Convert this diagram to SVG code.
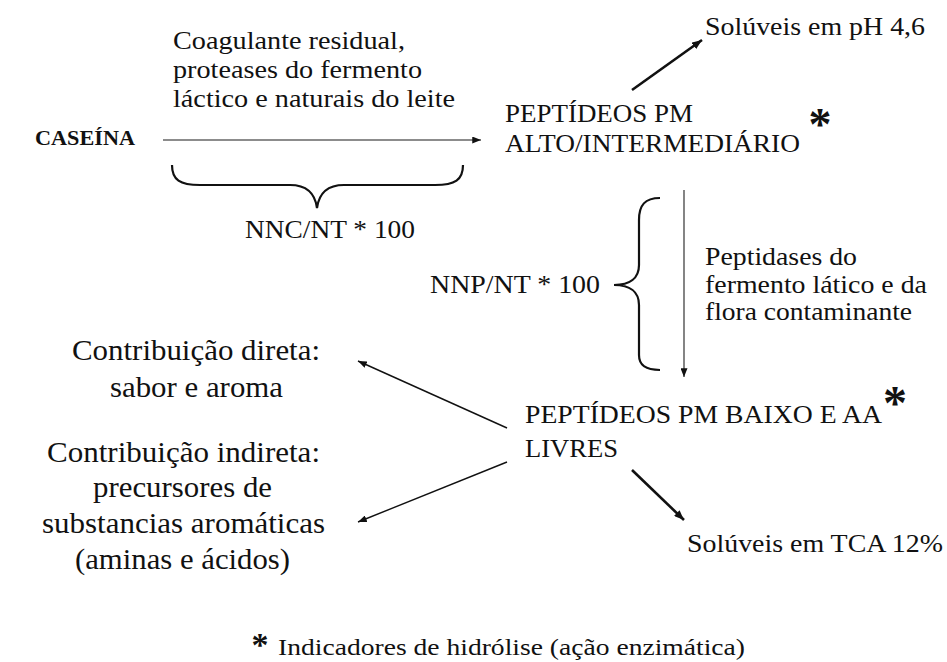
<svg xmlns="http://www.w3.org/2000/svg" width="947" height="662" viewBox="0 0 947 662" font-family="'Liberation Serif', Tinos, 'Times New Roman', serif">
<defs>
<style>
text{font-family:'Liberation Serif', Tinos, 'Times New Roman', serif;fill:#111;}
.s25{font-size:25px;}
.s26{font-size:26px;}
.s29{font-size:29px;}
.b{font-weight:bold;}
.ast{font-weight:bold;text-anchor:middle;}
.thin{stroke:#111;stroke-width:1.4;fill:none;}
.thick{stroke:#111;stroke-width:2.6;fill:none;}
.gray{stroke:#666;stroke-width:1.6;fill:none;}
.brace{stroke:#111;stroke-width:2.2;fill:none;}
</style>
<marker id="ah" viewBox="0 0 10 8" refX="10" refY="4" markerWidth="10" markerHeight="8" markerUnits="userSpaceOnUse" orient="auto">
<path d="M0,0 L10,4 L0,8 Z" fill="#111"/>
</marker>
<marker id="ahs" viewBox="0 0 10 8" refX="10" refY="4" markerWidth="9" markerHeight="7" markerUnits="userSpaceOnUse" orient="auto">
<path d="M0,0 L10,4 L0,8 Z" fill="#111"/>
</marker>
</defs>
<rect width="947" height="662" fill="#fff"/>

<g id="connectors">
<line class="gray" x1="163" y1="140" x2="481" y2="140" marker-end="url(#ahs)"/>
<path class="brace" d="M172,165 C172,180 180,185 200,185 L290,185 C306,185 315,193 317,208 C319,193 328,185 344,185 L435,185 C455,185 463,180 463,165"/>
<line class="thick" x1="632" y1="90" x2="702" y2="40" marker-end="url(#ah)"/>
<line class="gray" x1="684" y1="190" x2="684" y2="377" marker-end="url(#ahs)"/>
<path class="brace" d="M660,198 C645,198 639,205 639,220 L639,265 C639,278 630,285 614,285 C630,285 639,292 639,305 L639,355 C639,365 645,370 660,370"/>
<line class="thin" x1="507" y1="428" x2="358" y2="361" marker-end="url(#ahs)"/>
<line class="thin" x1="507" y1="462" x2="358" y2="522" marker-end="url(#ahs)"/>
<line class="thick" x1="632" y1="470" x2="684" y2="520" marker-end="url(#ah)"/>
</g>

<g id="caseina">
<text class="b" font-size="22" x="35" y="145" textLength="100" lengthAdjust="spacingAndGlyphs">CASEÍNA</text>
</g>

<g id="label-coagulante">
<text class="s25" x="173" y="49" textLength="232" lengthAdjust="spacingAndGlyphs">Coagulante residual,</text>
<text class="s25" x="173" y="78" textLength="249" lengthAdjust="spacingAndGlyphs">proteases do fermento</text>
<text class="s25" x="173" y="107" textLength="282" lengthAdjust="spacingAndGlyphs">láctico e naturais do leite</text>
</g>

<g id="label-nnc">
<text class="s26" x="245" y="238" textLength="170" lengthAdjust="spacingAndGlyphs">NNC/NT * 100</text>
</g>

<g id="peptideos-alto">
<text class="s25" x="505" y="122" textLength="188" lengthAdjust="spacingAndGlyphs">PEPTÍDEOS PM</text>
<text class="s26" x="505" y="152" textLength="295" lengthAdjust="spacingAndGlyphs">ALTO/INTERMEDIÁRIO</text>
<text class="ast" font-size="46" x="820" y="140">*</text>
</g>

<g id="soluveis-ph">
<text class="s25" x="705" y="35" textLength="220" lengthAdjust="spacingAndGlyphs">Solúveis em pH 4,6</text>
</g>

<g id="label-nnp">
<text class="s26" x="430" y="293" textLength="170" lengthAdjust="spacingAndGlyphs">NNP/NT * 100</text>
</g>

<g id="label-peptidases">
<text class="s25" x="705" y="265" textLength="152" lengthAdjust="spacingAndGlyphs">Peptidases do</text>
<text class="s25" x="705" y="293" textLength="222" lengthAdjust="spacingAndGlyphs">fermento lático e da</text>
<text class="s25" x="705" y="320" textLength="207" lengthAdjust="spacingAndGlyphs">flora contaminante</text>
</g>

<g id="peptideos-baixo">
<text class="s25" x="525" y="423" textLength="357" lengthAdjust="spacingAndGlyphs">PEPTÍDEOS PM BAIXO E AA</text>
<text class="s25" x="525" y="457" textLength="93" lengthAdjust="spacingAndGlyphs">LIVRES</text>
<text class="ast" font-size="48" x="895" y="419">*</text>
</g>

<g id="contrib-direta">
<text class="s29" x="72" y="360" textLength="248" lengthAdjust="spacingAndGlyphs">Contribuição direta:</text>
<text class="s29" x="110" y="397" textLength="173" lengthAdjust="spacingAndGlyphs">sabor e aroma</text>
</g>

<g id="contrib-indireta">
<text class="s29" x="47" y="462" textLength="273" lengthAdjust="spacingAndGlyphs">Contribuição indireta:</text>
<text class="s29" x="93" y="497" textLength="179" lengthAdjust="spacingAndGlyphs">precursores de</text>
<text class="s29" x="42" y="533" textLength="283" lengthAdjust="spacingAndGlyphs">substancias aromáticas</text>
<text class="s29" x="75" y="569" textLength="215" lengthAdjust="spacingAndGlyphs">(aminas e ácidos)</text>
</g>

<g id="soluveis-tca">
<text class="s25" x="687" y="552" textLength="256" lengthAdjust="spacingAndGlyphs">Solúveis em TCA 12%</text>
</g>

<g id="legend">
<text class="ast" font-size="34" x="260" y="656">*</text>
<text font-size="24" x="278" y="655" textLength="467" lengthAdjust="spacingAndGlyphs">Indicadores de hidrólise (ação enzimática)</text>
</g>
</svg>
